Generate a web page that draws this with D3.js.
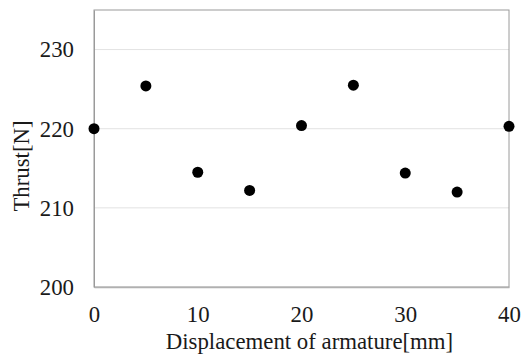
<!DOCTYPE html>
<html>
<head>
<meta charset="utf-8">
<script src="https://cdn.jsdelivr.net/npm/d3@7"></script>
<style>
  body { margin: 0; background: #fff; }
  svg { display: block; }
  svg text { font-family: "Liberation Serif", "Times New Roman", serif; font-size: 22.8px; fill: #1a1a1a; }
</style>
</head>
<body>
<svg id="chart" width="522" height="356"></svg>
<script>
// displacement of armature [mm] and measured thrust [N]
const displacement = [0, 5, 10, 15, 20, 25, 30, 35, 40];
const thrust = [220.0, 225.4, 214.5, 212.2, 220.4, 225.5, 214.4, 212.0, 220.3];
const xTicks = [0, 10, 20, 30, 40];
const yTicks = [200, 210, 220, 230];

const margin = { top: 10, right: 13, bottom: 69, left: 94 };
const width = 522 - margin.left - margin.right;
const height = 356 - margin.top - margin.bottom;

const svg = d3.select('#chart')
  .append('g')
  .attr('transform', `translate(${margin.left},${margin.top})`);

const x = d3.scaleLinear().domain([0, 40]).range([0, width]);
const y = d3.scaleLinear().domain([200, 235]).range([height, 0]);

// horizontal grid lines
svg.append('g')
  .selectAll('line')
  .data(yTicks.slice(1))
  .enter()
  .append('line')
  .attr('x1', 0)
  .attr('x2', width)
  .attr('y1', d => y(d))
  .attr('y2', d => y(d))
  .attr('stroke', '#e3e3e3')
  .attr('stroke-width', 1);

// plot frame
svg.append('rect')
  .attr('x', 0)
  .attr('y', 0)
  .attr('width', width)
  .attr('height', height)
  .attr('fill', 'none')
  .attr('stroke', '#9a9a9a')
  .attr('stroke-width', 1);

// x axis
const xAxis = svg.append('g')
  .attr('transform', `translate(0,${height})`)
  .call(d3.axisBottom(x).tickValues(xTicks).tickSize(0).tickPadding(35))
  .attr('font-family', null)
  .attr('font-size', null);
xAxis.select('.domain').attr('stroke', '#b0b0b0').attr('stroke-width', 1.5);
xAxis.selectAll('text').attr('dy', 0).attr('fill', null);

// y axis
const yAxis = svg.append('g')
  .call(d3.axisLeft(y).tickValues(yTicks).tickSize(0).tickPadding(20))
  .attr('font-family', null)
  .attr('font-size', null);
yAxis.select('.domain').attr('stroke', '#9a9a9a');
yAxis.selectAll('text').attr('fill', null);

// axis titles
svg.append('text')
  .attr('x', width / 2 + 8)
  .attr('y', height + 62)
  .attr('text-anchor', 'middle')
  .text('Displacement of armature[mm]');

svg.append('text')
  .attr('transform', `translate(${29 - margin.left},${166 - margin.top}) rotate(-90)`)
  .attr('text-anchor', 'middle')
  .text('Thrust[N]');

// data points
svg.selectAll('.dot')
  .data(displacement.map((d, i) => ({ x: d, y: thrust[i] })))
  .enter()
  .append('circle')
  .attr('class', 'dot')
  .attr('cx', d => x(d.x))
  .attr('cy', d => y(d.y))
  .attr('r', 5.5)
  .attr('fill', '#000');
</script>
</body>
</html>
